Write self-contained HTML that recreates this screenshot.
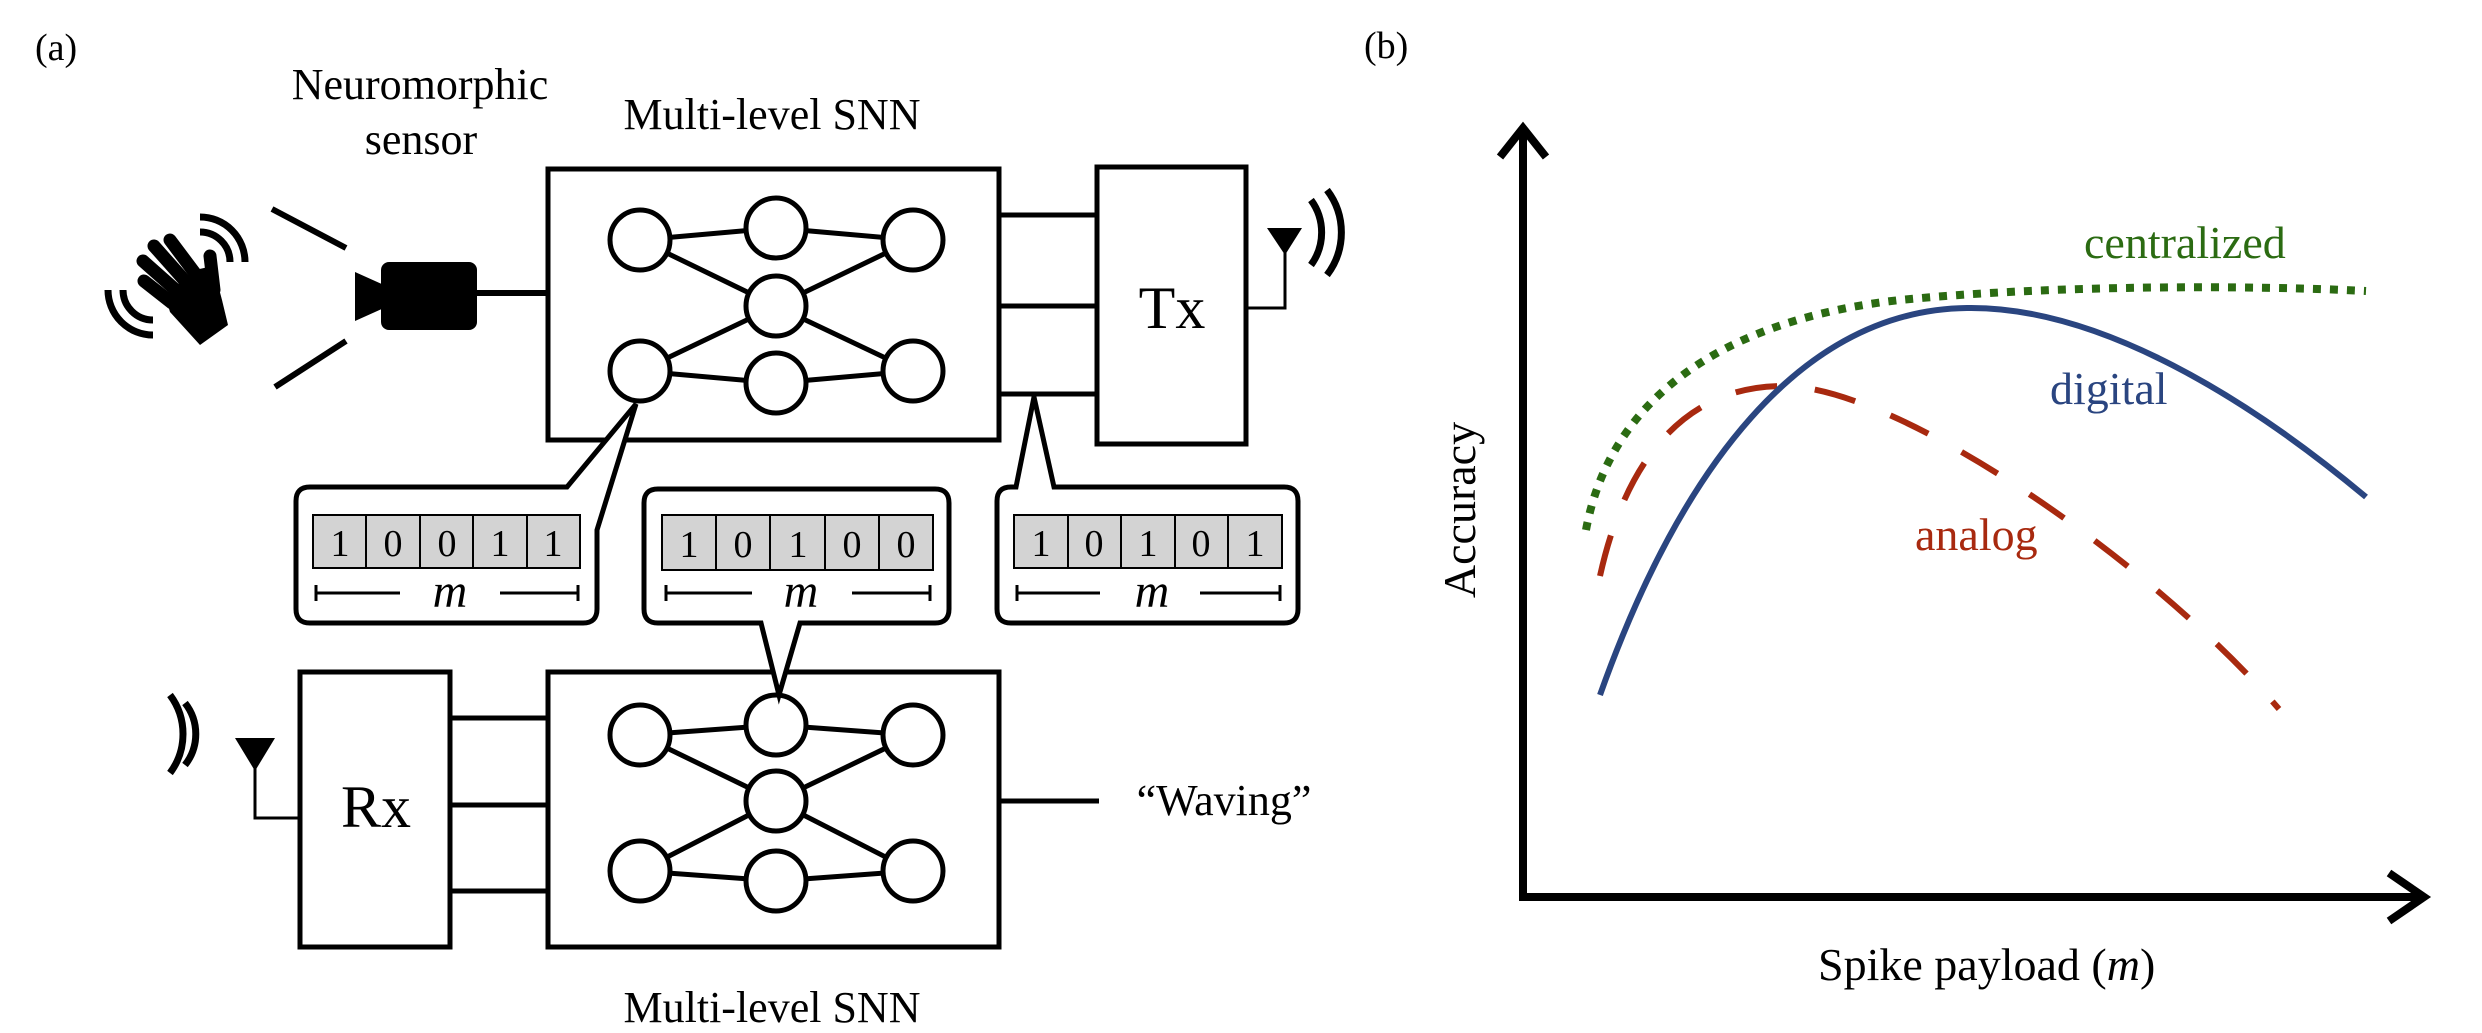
<!DOCTYPE html>
<html><head><meta charset="utf-8"><style>
html,body{margin:0;padding:0;background:#fff;}
svg{display:block;font-family:"Liberation Serif","DejaVu Serif",serif;}
svg text{font-family:"Liberation Serif","DejaVu Serif",serif;}
</style></head><body>
<svg width="2482" height="1033" viewBox="0 0 2482 1033" xmlns="http://www.w3.org/2000/svg" font-family="Liberation Serif, DejaVu Serif, serif">
<g font-size="40" fill="#000">
<text x="35" y="60" font-size="38">(a)</text>
<text x="1364" y="58" font-size="38">(b)</text>
</g>
<g font-size="44" text-anchor="middle" fill="#000">
<text x="420" y="99">Neuromorphic</text>
<text x="421" y="154">sensor</text>
<text x="772" y="129">Multi-level SNN</text>
<text x="772" y="1022">Multi-level SNN</text>
<text x="1224" y="815">“Waving”</text>
</g>
<g stroke="#000" stroke-linecap="round" fill="none">
<g stroke-width="13">
<line x1="143" y1="261" x2="178" y2="292"/>
<line x1="154" y1="246" x2="186" y2="282"/>
<line x1="170" y1="240" x2="197" y2="276"/>
<line x1="144" y1="281" x2="172" y2="303"/>
<line x1="210" y1="256" x2="214" y2="290"/>
</g>
<g stroke-width="7" stroke-linecap="butt">
<path d="M200,217 A45,45 0 0 1 245,262"/>
<path d="M200,232 A30,30 0 0 1 230,262"/>
<path d="M108,290 A45,45 0 0 0 153,335"/>
<path d="M123,290 A30,30 0 0 0 153,320"/>
</g>
</g>
<polygon points="165,295 195,270 213,266 222,300 228,325 200,345 170,312" fill="#000"/>
<g stroke="#000" stroke-width="6">
<line x1="272" y1="209" x2="346" y2="248"/>
<line x1="275" y1="387" x2="346" y2="341"/>
<line x1="476" y1="293" x2="546" y2="293"/>
</g>
<rect x="381" y="262" width="96" height="68" rx="8" fill="#000"/>
<polygon points="355,272 384,285 384,308 355,321" fill="#000"/>
<g stroke="#000" stroke-width="5" fill="none">
<rect x="548" y="169" width="451" height="271"/>
<line x1="640" y1="240" x2="776" y2="228"/><line x1="776" y1="228" x2="913" y2="240"/>
<line x1="640" y1="240" x2="776" y2="306"/><line x1="776" y1="306" x2="913" y2="371"/>
<line x1="640" y1="371" x2="776" y2="306"/><line x1="776" y1="306" x2="913" y2="240"/>
<line x1="640" y1="371" x2="776" y2="383"/><line x1="776" y1="383" x2="913" y2="371"/>
<g fill="#fff">
<ellipse cx="640" cy="240" rx="30" ry="30"/><ellipse cx="776" cy="228" rx="30" ry="30"/><ellipse cx="913" cy="240" rx="30" ry="30"/>
<ellipse cx="776" cy="306" rx="30" ry="30"/>
<ellipse cx="640" cy="371" rx="30" ry="30"/><ellipse cx="776" cy="383" rx="30" ry="30"/><ellipse cx="913" cy="371" rx="30" ry="30"/>
</g>
<rect x="1097" y="167" width="149" height="277"/>
<line x1="999" y1="215" x2="1097" y2="215"/><line x1="999" y1="306" x2="1097" y2="306"/><line x1="999" y1="394" x2="1097" y2="394"/>
<polyline points="1246,308 1285,308 1285,250" stroke-width="3"/>
<path d="M1311,200 A55,55 0 0 1 1311,265" stroke-width="7"/>
<path d="M1327,190 A70,70 0 0 1 1327,275" stroke-width="7"/>
<rect x="548" y="672" width="451" height="275"/>
<line x1="640" y1="735" x2="776" y2="725"/><line x1="776" y1="725" x2="913" y2="735"/>
<line x1="640" y1="735" x2="776" y2="801"/><line x1="776" y1="801" x2="913" y2="871"/>
<line x1="640" y1="871" x2="776" y2="801"/><line x1="776" y1="801" x2="913" y2="735"/>
<line x1="640" y1="871" x2="776" y2="881"/><line x1="776" y1="881" x2="913" y2="871"/>
<g fill="#fff">
<ellipse cx="640" cy="735" rx="30" ry="30"/><ellipse cx="776" cy="725" rx="30" ry="30"/><ellipse cx="913" cy="735" rx="30" ry="30"/>
<ellipse cx="776" cy="801" rx="30" ry="30"/>
<ellipse cx="640" cy="871" rx="30" ry="30"/><ellipse cx="776" cy="881" rx="30" ry="30"/><ellipse cx="913" cy="871" rx="30" ry="30"/>
</g>
<line x1="999" y1="801" x2="1099" y2="801"/>
<rect x="300" y="672" width="150" height="275"/>
<line x1="450" y1="718" x2="548" y2="718"/><line x1="450" y1="805" x2="548" y2="805"/><line x1="450" y1="891" x2="548" y2="891"/>
<polyline points="300,818 255,818 255,765" stroke-width="3"/>
<path d="M185,703 A50,50 0 0 1 185,765" stroke-width="7"/>
<path d="M170,695 A65,65 0 0 1 170,773" stroke-width="7"/>
<path d="M567,487 L310,487 Q296,487 296,501 L296,609 Q296,623 310,623 L583,623 Q597,623 597,609 L597,530 L636,404 Z" fill="#fff"/>
<path d="M761,623 L658,623 Q644,623 644,609 L644,503 Q644,489 658,489 L935,489 Q949,489 949,503 L949,609 Q949,623 935,623 L800,623 L779,695 Z" fill="#fff"/>
<path d="M1016,487 L1011,487 Q997,487 997,501 L997,609 Q997,623 1011,623 L1284,623 Q1298,623 1298,609 L1298,501 Q1298,487 1284,487 L1054,487 L1034,397 Z" fill="#fff"/>
</g>
<polygon points="1267,228 1302,228 1285,255" fill="#000"/>
<polygon points="235,738 275,738 255,771" fill="#000"/>
<g font-size="60" text-anchor="middle"><text x="1172" y="328">Tx</text><text x="376" y="827">Rx</text></g>
<g stroke="#000" stroke-width="2" fill="#d3d3d3">
<rect x="313" y="515" width="267" height="53"/>
<rect x="662" y="515" width="271" height="55"/>
<rect x="1014" y="515" width="268" height="53"/>
</g>
<g stroke="#000" stroke-width="2">
<line x1="366" y1="515" x2="366" y2="568"/><line x1="420" y1="515" x2="420" y2="568"/><line x1="473" y1="515" x2="473" y2="568"/><line x1="527" y1="515" x2="527" y2="568"/>
<line x1="716" y1="515" x2="716" y2="570"/><line x1="770" y1="515" x2="770" y2="570"/><line x1="825" y1="515" x2="825" y2="570"/><line x1="879" y1="515" x2="879" y2="570"/>
<line x1="1068" y1="515" x2="1068" y2="568"/><line x1="1121" y1="515" x2="1121" y2="568"/><line x1="1175" y1="515" x2="1175" y2="568"/><line x1="1228" y1="515" x2="1228" y2="568"/>
</g>
<g font-size="38" text-anchor="middle">
<text x="340" y="556">1</text><text x="393" y="556">0</text><text x="447" y="556">0</text><text x="500" y="556">1</text><text x="553" y="556">1</text>
<text x="689" y="557">1</text><text x="743" y="557">0</text><text x="798" y="557">1</text><text x="852" y="557">0</text><text x="906" y="557">0</text>
<text x="1041" y="556">1</text><text x="1094" y="556">0</text><text x="1148" y="556">1</text><text x="1201" y="556">0</text><text x="1255" y="556">1</text>
</g>
<g stroke="#000" stroke-width="3">
<line x1="316" y1="593" x2="400" y2="593"/><line x1="500" y1="593" x2="578" y2="593"/><line x1="316" y1="585" x2="316" y2="601"/><line x1="578" y1="585" x2="578" y2="601"/>
<line x1="666" y1="593" x2="752" y2="593"/><line x1="852" y1="593" x2="930" y2="593"/><line x1="666" y1="585" x2="666" y2="601"/><line x1="930" y1="585" x2="930" y2="601"/>
<line x1="1017" y1="593" x2="1100" y2="593"/><line x1="1200" y1="593" x2="1280" y2="593"/><line x1="1017" y1="585" x2="1017" y2="601"/><line x1="1280" y1="585" x2="1280" y2="601"/>
</g>
<g font-size="48" font-style="italic" text-anchor="middle">
<text x="450" y="607">m</text><text x="801" y="607">m</text><text x="1152" y="607">m</text>
</g>
<g stroke="#000" stroke-width="8" fill="none">
<polyline points="1523,130 1523,897 2424,897"/>
<polyline points="1500,157 1523,128 1546,157"/>
<polyline points="2389,873 2424,897 2389,921"/>
</g>
<path d="M1586,530 C1610,400 1720,320 1900,300 C2050,285 2250,285 2366,291" stroke="#2b6b12" stroke-width="8" fill="none" stroke-dasharray="8,9"/>
<path d="M1600,576 C1630,440 1700,385 1785,386 C1900,388 2150,560 2279,709" stroke="#a8290f" stroke-width="6" fill="none" stroke-dasharray="42,38"/>
<path d="M1600,695 C1680,470 1800,310 1967,308 C2100,306 2250,400 2366,497" stroke="#2a4580" stroke-width="6" fill="none"/>
<g font-size="46">
<text x="2084" y="258" fill="#2b6b12">centralized</text>
<text x="2050" y="404" fill="#2a4580">digital</text>
<text x="1915" y="550" fill="#a8290f">analog</text>
<text x="1818" y="980" fill="#000">Spike payload  (<tspan font-style="italic">m</tspan>)</text>
<text transform="translate(1475,510) rotate(-90)" text-anchor="middle" fill="#000">Accuracy</text>
</g>
</svg>
</body></html>
